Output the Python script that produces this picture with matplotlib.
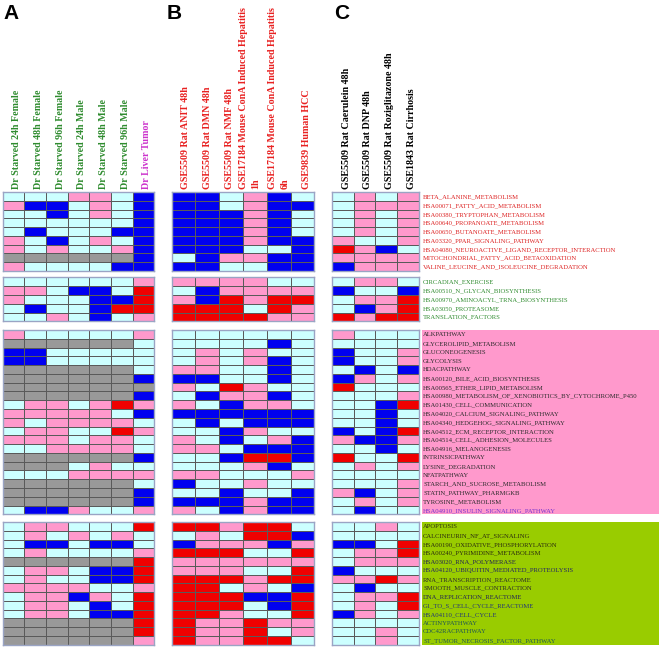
import matplotlib
matplotlib.use('Agg')
import matplotlib.pyplot as plt
from matplotlib.colors import ListedColormap
from matplotlib.patches import Rectangle
import numpy as np

# ---------------- data ----------------
# codes: L = not significant (light cyan), P = weak (pink), B = down (blue), R = up (red), G = n/a (gray)
headers_A = ["Dr Starved 24h Female", "Dr Starved 48h Female", "Dr Starved 96h Female",
             "Dr Starved 24h Male", "Dr Starved 48h Male", "Dr Starved 96h Male", "Dr Liver Tumor"]
headers_B = ["GSE5509 Rat ANIT 48h", "GSE5509 Rat DMN 48h", "GSE5509 Rat NMF 48h",
             "GSE17184 Mouse ConA Induced Hepatitis\n1h", "GSE17184 Mouse ConA Induced Hepatitis\n6h",
             "GSE9839 Human HCC"]
headers_C = ["GSE5509 Rat Caerulein 48h", "GSE5509 Rat DNP 48h",
             "GSE5509 Rat Roziglitazone 48h", "GSE1843 Rat Cirrhosis"]

labels_1 = ["BETA_ALANINE_METABOLISM", "HSA00071_FATTY_ACID_METABOLISM", "HSA00380_TRYPTOPHAN_METABOLISM",
            "HSA00640_PROPANOATE_METABOLISM", "HSA00650_BUTANOATE_METABOLISM", "HSA03320_PPAR_SIGNALING_PATHWAY",
            "HSA04080_NEUROACTIVE_LIGAND_RECEPTOR_INTERACTION", "MITOCHONDRIAL_FATTY_ACID_BETAOXIDATION",
            "VALINE_LEUCINE_AND_ISOLEUCINE_DEGRADATION"]
labels_2 = ["CIRCADIAN_EXERCISE", "HSA00510_N_GLYCAN_BIOSYNTHESIS", "HSA00970_AMINOACYL_TRNA_BIOSYNTHESIS",
            "HSA03050_PROTEASOME", "TRANSLATION_FACTORS"]
labels_3 = ["ALKPATHWAY", "GLYCEROLIPID_METABOLISM", "GLUCONEOGENESIS", "GLYCOLYSIS", "HDACPATHWAY",
            "HSA00120_BILE_ACID_BIOSYNTHESIS", "HSA00565_ETHER_LIPID_METABOLISM",
            "HSA00980_METABOLISM_OF_XENOBIOTICS_BY_CYTOCHROME_P450", "HSA01430_CELL_COMMUNICATION",
            "HSA04020_CALCIUM_SIGNALING_PATHWAY", "HSA04340_HEDGEHOG_SIGNALING_PATHWAY",
            "HSA04512_ECM_RECEPTOR_INTERACTION", "HSA04514_CELL_ADHESION_MOLECULES", "HSA04916_MELANOGENESIS",
            "INTRINSICPATHWAY", "LYSINE_DEGRADATION", "NFATPATHWAY", "STARCH_AND_SUCROSE_METABOLISM",
            "STATIN_PATHWAY_PHARMGKB", "TYROSINE_METABOLISM", "HSA04910_INSULIN_SIGNALING_PATHWAY"]
labels_4 = ["APOPTOSIS", "CALCINEURIN_NF_AT_SIGNALING", "HSA00190_OXIDATIVE_PHOSPHORYLATION",
            "HSA00240_PYRIMIDINE_METABOLISM", "HSA03020_RNA_POLYMERASE", "HSA04120_UBIQUITIN_MEDIATED_PROTEOLYSIS",
            "RNA_TRANSCRIPTION_REACTOME", "SMOOTH_MUSCLE_CONTRACTION", "DNA_REPLICATION_REACTOME",
            "G1_TO_S_CELL_CYCLE_REACTOME", "HSA04110_CELL_CYCLE", "ACTINYPATHWAY", "CDC42RACPATHWAY",
            "ST_TUMOR_NECROSIS_FACTOR_PATHWAY"]

A1 = ["LLLPPLB", "PBBLPLB", "LLBLPLB", "LLLLLLB", "LBLLLBB", "PLBLPLB", "PLPLLPB", "GGGGGGB", "PLLLLBB"]
A2 = ["LLLLLLP", "PPLBBLR", "PLLLBBR", "LBLLBRR", "LLPLBLP"]
A3 = ["PLLLLLP", "GGGGGGL", "BBLLLLL", "BBLLLLL", "GGGGGGL", "GGGGGGB", "GGGGGGG", "GGGGGGB",
      "LPPLPRP", "PPPPPLB", "PLPPPPL", "LPPLLRP", "PPPLPPL", "LLPPPPL", "GGGGGGB", "GGGLPLL",
      "LLLPPPP", "GGGGGGL", "GGGGGGB", "GGGGGGB", "LBBPLLP"]
A4 = ["LPPLLLR", "LPLPLPL", "LBBLBBL", "LPLLLLP", "GGGGGGR", "LPPLBBR", "LPLLBBR", "PPPPLLP",
      "LPPBPLR", "LPPLBLR", "LPPLBBR", "GGGGGGR", "GGGGGGR", "GGGGGGP"]

B1 = ["BBLPBL", "BBLPBB", "BBBPBL", "BBBPBL", "BBBPBL", "BBBPBB", "BBBLLB", "LBPPBB", "BBLLBB"]
B2 = ["PPPPLL", "LBPPPP", "PBRPRR", "RRRLRP", "RRRRPP"]
B3 = ["LLLLLL", "LLLLBL", "LPLPLL", "LPLPBL", "PPLLBL", "BBLLBL", "PLRPLL", "LBPPBL", "PLBPPL",
      "BBBBBB", "LBLBBB", "LLBPLL", "PLBLPB", "PPLBBB", "LLBRRB", "LLLPBL", "PPLLLP", "BLLPLL",
      "LLBLLB", "BBBPBB", "PLBPBB"]
B4 = ["RRPRRL", "LPLRRB", "BPPPBP", "RRRLLR", "PPPPPP", "PPPLLR", "RRRPRR", "RRLPLB", "RRRBBR",
      "RRRLBR", "RRPLLR", "RPPRPP", "RPPRLP", "RPPRRL"]

C1 = ["LPLP", "LPPP", "LPLP", "LPLP", "LPLP", "PLLP", "RPBL", "PPPP", "BPPP"]
C2 = ["LPPL", "BLLB", "LPPR", "LBPR", "RPRR"]
C3 = ["PLLL", "LLLL", "BLLP", "BLLP", "LBLB", "BPLP", "RLLL", "LLLP", "LLBR", "LLBL", "LLBL",
      "BLBR", "PBBP", "LLBL", "RLLR", "LPLP", "LLLL", "LLLP", "PBLP", "LPLP", "LBLL"]
C4 = ["LLPL", "LLLL", "BBLR", "LPPR", "LPPP", "BLLL", "PPRP", "LBLL", "LPPR", "LPLR", "BPLP",
      "LLLL", "LLPL", "LLPL"]

# ---------------- style ----------------
W, H = 662, 648
code_order = "LPBRG"
cmap = ListedColormap(["#CCFFFF", "#FF99CC", "#0000F0", "#F00000", "#999999"])

panels_x = {"A": (2.7, 154.3), "B": (171.7, 314.3), "C": (332.0, 418.7)}
blocks_y = [(192.3, 270.7), (277.3, 321.3), (330.0, 514.3), (522.0, 644.7)]

data = {"A": [A1, A2, A3, A4], "B": [B1, B2, B3, B4], "C": [C1, C2, C3, C4]}
row_labels = [labels_1, labels_2, labels_3, labels_4]

# header x positions inside each column (fraction of column)
hdr_off = {"A": [0.65] * 7, "B": [0.59, 0.49, 0.45, 0.29, 0.51, 0.68], "C": [0.66] * 4}

serif = ["Liberation Serif", "DejaVu Serif"]

fig = plt.figure(figsize=(W / 100, H / 100), dpi=100)
fig.patch.set_facecolor("white")


def px_axes(x0, y0, x1, y1):
    return fig.add_axes([x0 / W, 1 - y1 / H, (x1 - x0) / W, (y1 - y0) / H])


# background boxes behind labels of blocks 3 and 4
fig.patches.append(Rectangle((421.7 / W, 1 - 514.3 / H), (658.5 - 421.7) / W, (514.3 - 330.0) / H,
                             transform=fig.transFigure, facecolor="#FF99CC", edgecolor="none", zorder=-5))
fig.patches.append(Rectangle((421.7 / W, 1 - 644.7 / H), (658.5 - 421.7) / W, (644.7 - 522.0) / H,
                             transform=fig.transFigure, facecolor="#99CC00", edgecolor="none", zorder=-5))

axes = {}
for pname, (x0, x1) in panels_x.items():
    for bi, (y0, y1) in enumerate(blocks_y):
        rows = data[pname][bi]
        arr = np.array([[code_order.index(c) for c in r] for r in rows])
        ax = px_axes(x0, y0, x1, y1)
        ax.set_zorder(1)
        ax.patch.set_alpha(0)
        ax.pcolormesh(np.arange(arr.shape[1] + 1), np.arange(arr.shape[0] + 1), arr,
                      cmap=cmap, vmin=-0.5, vmax=4.5, edgecolors="#5a5a5a", linewidth=0.6)
        ax.set_xlim(0, arr.shape[1])
        ax.set_ylim(arr.shape[0], 0)
        ax.set_xticks([])
        ax.set_yticks([])
        for s in ax.spines.values():
            s.set_color("#9aa4c4")
            s.set_linewidth(1.0)
        axes[(pname, bi)] = ax

# column headers
hdr_fs = 7.2
for i, h in enumerate(headers_A):
    col = "#CC33CC" if i == 6 else "#2E8B2E"
    axes[("A", 0)].text(i + hdr_off["A"][i], -0.35, h, rotation=90, ha="center", va="bottom",
                        fontsize=hdr_fs, color=col, family=serif, fontweight="bold")
for i, h in enumerate(headers_B):
    axes[("B", 0)].text(i + hdr_off["B"][i], -0.35, h, rotation=90, ha="center", va="bottom",
                        fontsize=hdr_fs, color="#E82020", family=serif, fontweight="bold",
                        linespacing=1.45, multialignment="left")
for i, h in enumerate(headers_C):
    axes[("C", 0)].text(i + hdr_off["C"][i], -0.35, h, rotation=90, ha="center", va="bottom",
                        fontsize=hdr_fs, color="black", family=serif, fontweight="bold")

# row labels
label_colors = [
    ["#DD2222"] * 9,
    ["#2E8B2E"] * 5,
    ["#2a2a2a"] * 20 + ["#7733CC"],
    ["#2a2a10", "#2a2a10", "#2a2a10", "#2a2a10", "#222255", "#222266", "#2a2a2a", "#2a2a2a",
     "#222255", "#22337A", "#22337A", "#1F5555", "#1F5555", "#1F5555"],
]
for bi in range(4):
    ax = axes[("C", bi)]
    for r, lab in enumerate(row_labels[bi]):
        ax.text(4.2, r + 0.55, lab, ha="left", va="center", fontsize=4.8, family=serif,
                color=label_colors[bi][r], clip_on=False)

# panel letters
for letter, xp in (("A", 3.0), ("B", 166.5), ("C", 334.0)):
    fig.text(xp / W, 1 - 4 / H, letter, ha="left", va="top", fontsize=15, fontweight="bold",
             family=["Liberation Sans", "DejaVu Sans"])

fig.savefig("out.png", dpi=100, facecolor="white")
